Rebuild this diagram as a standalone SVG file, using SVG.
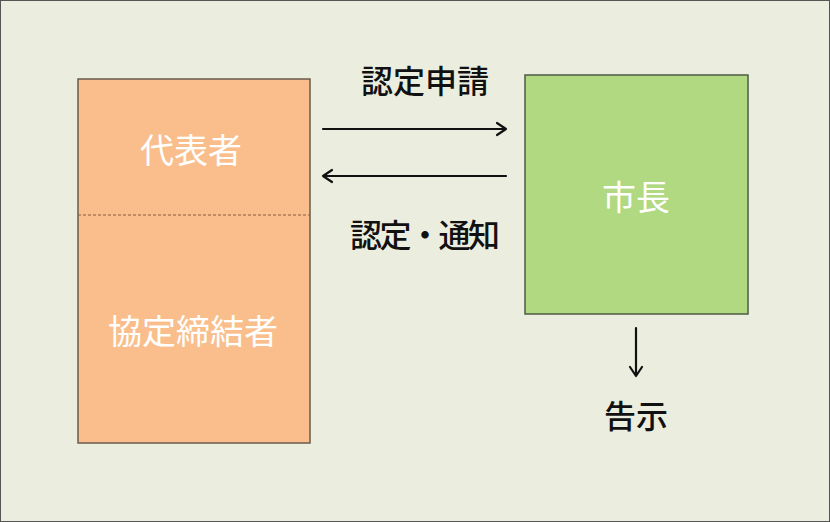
<svg xmlns="http://www.w3.org/2000/svg" width="830" height="522" viewBox="0 0 830 522">
<style>
.lbl{font-family:"Noto Sans CJK JP","Noto Sans CJK SC",sans-serif;text-anchor:middle;dominant-baseline:central}
.w{fill:#ffffff;font-size:34px}
.k{fill:#111111;font-size:32px;font-weight:500}
.ar{fill:none;stroke:#111111;stroke-width:2.2;stroke-linecap:round;stroke-linejoin:round}
</style>
<rect x="0.5" y="0.5" width="829" height="521" fill="#ebeedf" stroke="#555555" stroke-width="1"/>
<g id="node-left">
<rect x="78" y="79" width="232" height="364" fill="#f9be8c" stroke="#6b5a4d" stroke-width="1.5"/>
<line x1="78" y1="215" x2="310" y2="215" stroke="#8a5a3a" stroke-width="1" stroke-dasharray="3,2"/>
<text class="lbl w" x="191" y="148">代表者</text>
<text class="lbl w" x="193" y="329">協定締結者</text>
</g>
<g id="node-mayor">
<rect x="525" y="75" width="223" height="239" fill="#b0d982" stroke="#4f5a45" stroke-width="1.5"/>
<text class="lbl w" x="636" y="195">市長</text>
</g>
<g id="connectors">
<path class="ar" d="M323,129 H506 M497,123 L506,129 L497,135"/>
<path class="ar" d="M506,176 H323 M332,170 L323,176 L332,182"/>
<path class="ar" d="M636,328 V376 M630,367 L636,376 L642,367"/>
</g>
<g id="labels">
<text class="lbl k" x="425" y="79">認定申請</text>
<text class="lbl k" x="425" y="233" textLength="150" lengthAdjust="spacing">認定・通知</text>
<text class="lbl k" x="636" y="414">告示</text>
</g>
</svg>
